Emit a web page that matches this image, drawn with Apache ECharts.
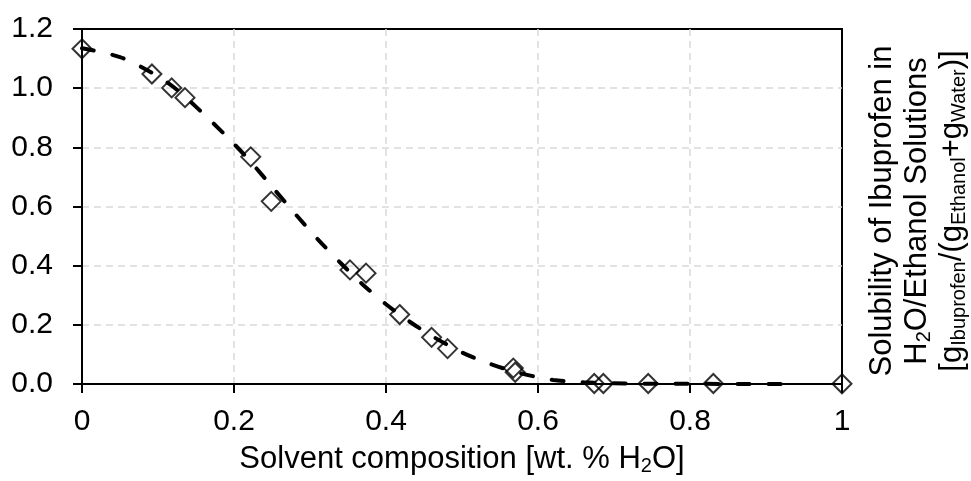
<!DOCTYPE html>
<html>
<head>
<meta charset="utf-8">
<script src="https://cdn.jsdelivr.net/npm/echarts@6/dist/echarts.min.js"></script>
<style>
html,body{margin:0;padding:0;background:#fff;}
#chart{width:971px;height:481px;}
</style>
</head>
<body>
<div id="chart"></div>
<script>
// Measured data points (solvent composition, solubility)
const measuredX = [0, 0.092, 0.118, 0.1355, 0.222, 0.249, 0.3526, 0.3737, 0.418, 0.46, 0.481, 0.5675, 0.57, 0.674, 0.686, 0.745, 0.8307, 1.0];
const measuredY = [1.133, 1.048, 1.001, 0.968, 0.768, 0.6175, 0.386, 0.375, 0.235, 0.158, 0.12, 0.054, 0.04, 0.002, 0.002, 0.002, 0.002, 0.001];

// Dashed fitted curve
const fitX = [0, 0.05, 0.09, 0.12, 0.155, 0.19, 0.22, 0.25, 0.28, 0.31, 0.34, 0.37, 0.40, 0.43, 0.46, 0.50, 0.535, 0.575, 0.62, 0.66, 0.72, 0.8, 0.93];
const fitY = [1.135, 1.105, 1.055, 1.005, 0.925, 0.838, 0.757, 0.667, 0.577, 0.49, 0.41, 0.335, 0.27, 0.213, 0.163, 0.107, 0.07, 0.038, 0.014, 0.006, 0.002, 0.001, 0.0];

const xTicks = [0, 0.2, 0.4, 0.6, 0.8, 1];
const yTicks = [0, 0.2, 0.4, 0.6, 0.8, 1.0, 1.2];

const FONT = 'Liberation Sans, Arial, sans-serif';
const FS = 30;
const TFS = 31;
const SUB = 20;

const chart = echarts.init(document.getElementById('chart'), null, {renderer: 'canvas'});

const gridLine = {show: true, showMinLine: false, showMaxLine: false, lineStyle: {color: '#d9d9d9', width: 1.5, type: [7, 5]}};

const option = {
  backgroundColor: '#fff',
  animation: false,
  grid: {
    left: 82, right: 129, top: 29, bottom: 88,
    show: true, borderColor: '#000', borderWidth: 2, backgroundColor: 'transparent'
  },
  xAxis: {
    type: 'value',
    min: xTicks[0], max: xTicks[xTicks.length - 1], interval: 0.2,
    axisLine: {show: true, onZero: false, lineStyle: {color: '#000', width: 2}},
    axisTick: {show: true, inside: false, length: 9, lineStyle: {color: '#000', width: 2}},
    axisLabel: {
      color: '#000', fontFamily: FONT, fontSize: FS, margin: 23,
      formatter: v => String(+(+v).toFixed(1))
    },
    splitLine: gridLine,
    name: 'Solvent composition [wt. % H{sub|2}O]',
    nameLocation: 'middle',
    nameGap: 56,
    nameTextStyle: {
      color: '#000', fontFamily: FONT, fontSize: TFS, lineHeight: 34,
      rich: {
        sub: {fontFamily: FONT, fontSize: SUB, lineHeight: 34, verticalAlign: 'bottom', color: '#000'}
      }
    }
  },
  yAxis: {
    type: 'value',
    min: yTicks[0], max: yTicks[yTicks.length - 1], interval: 0.2,
    axisLine: {show: true, onZero: false, lineStyle: {color: '#000', width: 2}},
    axisTick: {show: true, inside: false, length: 9, lineStyle: {color: '#000', width: 2}},
    axisLabel: {
      color: '#000', fontFamily: FONT, fontSize: FS, margin: 29,
      formatter: v => (+v).toFixed(1)
    },
    splitLine: gridLine
  },
  graphic: [{
    type: 'text',
    x: 917, y: 211,
    rotation: Math.PI / 2,
    style: {
      text: 'Solubility of Ibuprofen in\nH{s|2}O/Ethanol Solutions\n[g{s|Ibuprofen}/(g{s|Ethanol}+g{s|Water})]',
      fill: '#000',
      fontSize: TFS,
      fontFamily: FONT,
      lineHeight: 35,
      align: 'center',
      verticalAlign: 'middle',
      rich: {
        s: {fontSize: SUB, fontFamily: FONT, lineHeight: 35, verticalAlign: 'bottom', fill: '#000'}
      }
    },
    z: 100
  }],
  series: [
    {
      type: 'line',
      data: fitX.map((x, i) => [x, fitY[i]]),
      smooth: 0.3,
      showSymbol: false,
      symbol: 'none',
      lineStyle: {color: '#000', width: 4, type: [12, 19], cap: 'round'},
      z: 3
    },
    {
      type: 'scatter',
      data: measuredX.map((x, i) => [x, measuredY[i]]),
      symbol: 'diamond',
      symbolSize: 19,
      itemStyle: {color: 'rgba(0,0,0,0)', borderColor: '#000', borderWidth: 2},
      z: 4
    }
  ]
};
chart.setOption(option);
</script>
</body>
</html>
